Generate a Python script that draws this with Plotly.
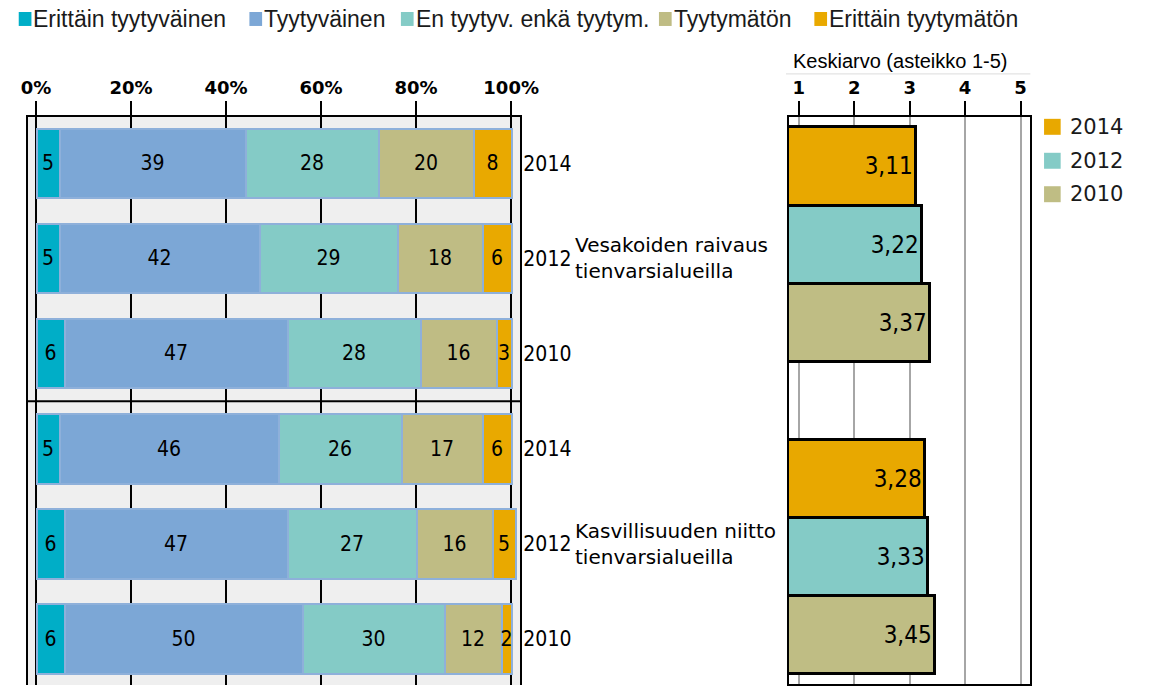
import plotly.graph_objects as go

# Response categories (stacked bar segments)
resp_labels = ["Erittäin tyytyväinen", "Tyytyväinen", "En tyytyv. enkä tyytym.",
               "Tyytymätön", "Erittäin tyytymätön"]
resp_colors = ["#00aec7", "#7ca7d6", "#84cbc6", "#bfbc84", "#e9a900"]

# Rows: two topics x three survey years
years = ["2014", "2012", "2010"]
topic_labels = ["Vesakoiden raivaus<br>tienvarsialueilla",
                "Kasvillisuuden niitto<br>tienvarsialueilla"]

# Shares (%) per row: topic 1 (2014, 2012, 2010), topic 2 (2014, 2012, 2010)
erittain_tyytyvainen = [5, 5, 6, 5, 6, 6]
tyytyvainen = [39, 42, 47, 46, 47, 50]
ei_kumpaakaan = [28, 29, 28, 26, 27, 30]
tyytymaton = [20, 18, 16, 17, 16, 12]
erittain_tyytymaton = [8, 6, 3, 6, 5, 2]
shares = [erittain_tyytyvainen, tyytyvainen, ei_kumpaakaan, tyytymaton, erittain_tyytymaton]

# Mean score (scale 1-5) per topic
mean_2014 = [3.11, 3.28]
mean_2012 = [3.22, 3.33]
mean_2010 = [3.37, 3.45]
means = [mean_2014, mean_2012, mean_2010]
year_colors = ["#e8a800", "#84cbc6", "#bfbd84"]

pct_ticks = [0, 20, 40, 60, 80, 100]
mean_ticks = [1, 2, 3, 4, 5]

W, H = 1152, 686
COND = "DejaVu Sans Condensed, DejaVu Sans, sans-serif"
VERD = "DejaVu Sans, sans-serif"
ARIAL = "Liberation Sans, Arial, sans-serif"

fig = go.Figure()

n_rows = len(erittain_tyytyvainen)
row_pos = list(range(n_rows))
for name, vals, col in zip(resp_labels, shares, resp_colors):
    fig.add_trace(go.Bar(
        x=vals, y=row_pos, orientation="h", name=name, width=0.73,
        marker=dict(color=col, line=dict(color="#8eb0da", width=2)),
        text=[str(v) for v in vals], textposition="inside",
        insidetextanchor="middle", textangle=0, constraintext="none",
        textfont=dict(family=COND, size=21, color="black"),
        xaxis="x", yaxis="y", showlegend=False, hoverinfo="skip"))

# Mean bars: topic g, year i -> position g*4 + i
for i, (yr, vals, col) in enumerate(zip(years, means, year_colors)):
    pos = [g * 4 + i for g in range(len(vals))]
    fig.add_trace(go.Bar(
        x=vals, y=pos, orientation="h", name=yr, width=1,
        marker=dict(color=col, line=dict(color="black", width=2.5)),
        text=[f"{v:.2f}".replace(".", ",") for v in vals], textposition="inside",
        insidetextanchor="end", textangle=0, constraintext="none",
        textfont=dict(family=COND, size=24, color="black"),
        xaxis="x2", yaxis="y2", showlegend=False, hoverinfo="skip"))

top_frac = (H - 117) / H

fig.update_layout(
    width=W, height=H, margin=dict(l=0, r=0, t=0, b=0),
    paper_bgcolor="white", plot_bgcolor="white", barmode="stack",
    bargap=0, showlegend=False,
    xaxis=dict(domain=[21 / W, 525 / W], range=[-1.79, 101.9], side="top",
               anchor="y", tickvals=pct_ticks, ticktext=[f"{t}%" for t in pct_ticks],
               ticks="outside", ticklen=14, tickwidth=2, tickcolor="black",
               showline=True, linecolor="black", linewidth=2,
               showgrid=True, gridcolor="black", gridwidth=2, zeroline=False,
               tickfont=dict(family=VERD, size=18, color="black", weight="bold")),
    yaxis=dict(domain=[0, top_frac], range=[5.483, -0.488], side="right",
               anchor="x", tickvals=row_pos, ticktext=years * 2, ticks="",
               showline=True, mirror=True, linecolor="black", linewidth=2,
               showgrid=False, zeroline=False, ticklabelstandoff=-3,
               tickfont=dict(family=COND, size=21, color="black")),
    xaxis2=dict(domain=[800 / W, 1047 / W], range=[0.824, 5.176], side="top",
                anchor="y2", tickvals=mean_ticks, ticks="outside", ticklen=14,
                tickwidth=2, tickcolor="black", showline=True, mirror=True,
                linecolor="black", linewidth=2, showgrid=True,
                gridcolor="#a6a6a6", gridwidth=2, zeroline=False,
                tickfont=dict(family=VERD, size=18, color="black", weight="bold")),
    yaxis2=dict(domain=[1 / H, top_frac], range=[6.626, -0.633], anchor="x2",
                showticklabels=False, ticks="", showline=True, mirror=True,
                linecolor="black", linewidth=2, showgrid=False, zeroline=False),
)

shapes = [
    # light grey panel behind the stacked bars
    dict(type="rect", xref="x domain", yref="y domain", x0=0, x1=1, y0=0, y1=1,
         fillcolor="#efefef", line=dict(width=0), layer="below"),
    # divider between the two topics
    dict(type="line", xref="x domain", yref="y", x0=0, x1=1, y0=2.5, y1=2.5,
         line=dict(color="black", width=2)),
    # thin rule under the mean-panel header
    dict(type="line", xref="paper", yref="paper", x0=797 / W, x1=1047 / W,
         y0=1 - 74 / H, y1=1 - 74 / H, line=dict(color="#dcdcdc", width=1)),
]
annotations = []

# Topic labels beside the 2012 row of each group
for g, lbl in enumerate(topic_labels):
    annotations.append(dict(
        text=lbl, xref="paper", yref="y", x=579 / W, y=g * 3 + 1, align="left",
        xanchor="left", yanchor="middle", showarrow=False,
        font=dict(family=VERD, size=20, color="black")))

annotations.append(dict(
    text="Keskiarvo (asteikko 1-5)", xref="paper", yref="paper",
    x=914 / W, y=1 - 61 / H, xanchor="center", yanchor="middle", showarrow=False,
    font=dict(family=ARIAL, size=20, color="black")))

# Top legend for the response categories
sq_x = [12, 248, 403, 667, 826]
for lbl, col, sx in zip(resp_labels, resp_colors, sq_x):
    shapes.append(dict(type="rect", xref="paper", yref="paper",
                       x0=sx / W, x1=(sx + 13) / W, y0=1 - 26 / H, y1=1 - 12 / H,
                       fillcolor=col, line=dict(width=0)))
    annotations.append(dict(text=lbl, xref="paper", yref="paper",
                            x=(sx + 13) / W, y=1 - 19 / H, xanchor="left",
                            yanchor="middle", showarrow=False,
                            font=dict(family=ARIAL, size=23, color="#1a1a1a")))

# Legend for the survey years
leg_y = [127, 161, 194.5]
for yr, col, cy in zip(years, year_colors, leg_y):
    shapes.append(dict(type="rect", xref="paper", yref="paper",
                       x0=1061 / W, x1=1078 / W, y0=1 - (cy + 8) / H, y1=1 - (cy - 8) / H,
                       fillcolor=col, line=dict(width=0)))
    annotations.append(dict(text=yr, xref="paper", yref="paper",
                            x=1085 / W, y=1 - cy / H, xanchor="left", yanchor="middle",
                            showarrow=False,
                            font=dict(family=VERD, size=21, color="#1a1a1a")))

fig.update_layout(shapes=shapes, annotations=annotations)
fig.write_html("out.html")
